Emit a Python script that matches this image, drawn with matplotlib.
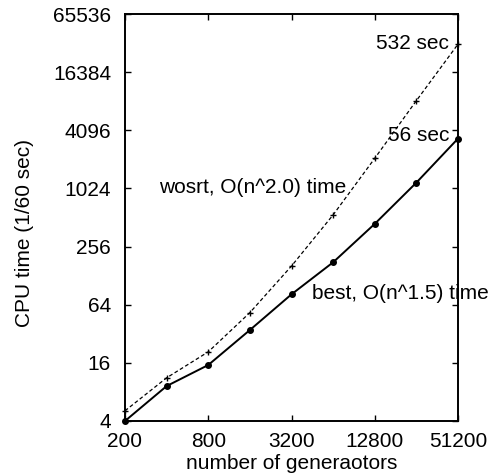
import matplotlib.pyplot as plt
from matplotlib.ticker import FixedLocator, FixedFormatter, NullLocator

plt.rcParams['font.family'] = ['Liberation Sans', 'DejaVu Sans']

generators = [200, 400, 800, 1600, 3200, 6400, 12800, 25600, 51200]
best_time = [4, 9.2, 15.2, 35, 82, 176, 440, 1176, 3360]
worst_time = [5.1, 11.2, 20.8, 53, 161, 545, 2100, 8300, 31920]

x_ticks = [200, 800, 3200, 12800, 51200]
y_ticks = [4, 16, 64, 256, 1024, 4096, 16384, 65536]

fig = plt.figure(figsize=(4.97, 4.75), dpi=100)
ax = fig.add_axes([125 / 497, 1 - 421 / 475, 333 / 497, 407 / 475])

ax.plot(generators, worst_time, color='black', linestyle=(0, (3, 2)),
        linewidth=0.9, marker='+', markersize=5, markeredgewidth=1.0,
        clip_on=False)
ax.plot(generators, best_time, color='black', linestyle='-', linewidth=1.4,
        marker='o', markersize=4, clip_on=False)

ax.set_xscale('log', base=2)
ax.set_yscale('log', base=2)
ax.set_xlim(200, 51200)
ax.set_ylim(4, 65536)

ax.xaxis.set_major_locator(FixedLocator(x_ticks))
ax.xaxis.set_major_formatter(FixedFormatter([str(v) for v in x_ticks]))
ax.xaxis.set_minor_locator(NullLocator())
ax.yaxis.set_major_locator(FixedLocator(y_ticks))
ax.yaxis.set_major_formatter(FixedFormatter([str(v) for v in y_ticks]))
ax.yaxis.set_minor_locator(NullLocator())

ax.tick_params(direction='in', top=True, right=True, length=4, width=1,
               labelsize=15)
ax.tick_params(axis='y', pad=10)
ax.tick_params(axis='x', pad=8)
for s in ax.spines.values():
    s.set_linewidth(1.4)

ax.set_xlabel('number of generaotors', fontsize=15)
ax.xaxis.set_label_coords(0.5, -0.082)
ax.set_ylabel('CPU time (1/60 sec)', fontsize=15)
ax.yaxis.set_label_coords(-0.274, 0.462)

ax.text(44000, 32768, '532 sec', fontsize=15, ha='right', va='center')
ax.text(44000, 3660, '56 sec', fontsize=15, ha='right', va='center')
ax.text(8000, 1040, 'wosrt, O(n^2.0) time', fontsize=15, ha='right', va='center')
ax.text(4500, 83, 'best, O(n^1.5) time', fontsize=15, ha='left', va='center',
        clip_on=False)

fig.savefig('out.png', dpi=100)
